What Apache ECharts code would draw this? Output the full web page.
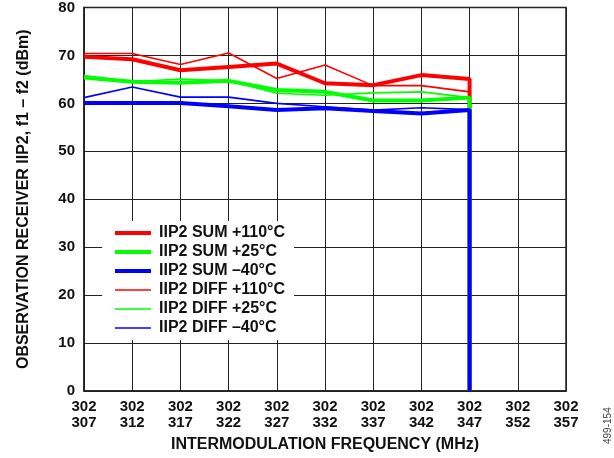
<!DOCTYPE html>
<html>
<head>
<meta charset="utf-8">
<script src="https://cdn.jsdelivr.net/npm/echarts@6/dist/echarts.min.js"></script>
<style>
  html, body { margin: 0; padding: 0; background: #fff; }
  #chart { width: 614px; height: 458px; }
</style>
</head>
<body>
<div id="chart"></div>
<script>
// intermodulation frequency, second line of the tick label (MHz)
const freqs = [307, 312, 317, 322, 327, 332, 337, 342, 347];
const f1Label = '302';

const sum110 = [69.7, 69.2, 66.9, 67.6, 68.3, 64.2, 63.8, 65.9, 65.1];
const sum25 = [65.4, 64.5, 64.3, 64.7, 62.8, 62.4, 60.6, 60.6, 61.2];
const sumM40 = [60.1, 60.1, 60.1, 59.4, 58.6, 59.0, 58.4, 57.9, 58.6];
const diff110 = [70.4, 70.4, 68.1, 70.5, 65.2, 68.0, 63.7, 63.7, 62.4];
const diff25 = [65.8, 64.5, 65.1, 64.7, 62.1, 61.7, 62.2, 62.4, 61.2];
const diffM40 = [61.2, 63.4, 61.3, 61.3, 60.0, 59.3, 58.6, 59.1, 58.7];

const sumNames = ['IIP2 SUM +110°C', 'IIP2 SUM +25°C', 'IIP2 SUM –40°C'];
const diffNames = ['IIP2 DIFF +110°C', 'IIP2 DIFF +25°C', 'IIP2 DIFF –40°C'];

const FONT = 'Arial, "Liberation Sans", sans-serif';
const THICK = 4;
const THIN = 1.6;

// each trace ends with a vertical drop to 0 at the last frequency
function toPoints(vals) {
    const pts = freqs.map((f, i) => [f, vals[i]]);
    pts.push([freqs[freqs.length - 1], 0]);
    return pts;
}

function makeSeries(name, vals, color, width) {
    return {
        name: name,
        type: 'line',
        data: toPoints(vals),
        symbol: 'none',
        color: color,
        lineStyle: { color: color, width: width },
        animation: false
    };
}

const chart = echarts.init(document.getElementById('chart'));

const option = {
    backgroundColor: '#fff',
    textStyle: { fontFamily: FONT },
    grid: {
        left: 84,
        right: 48,
        top: 6,
        bottom: 66,
        show: true,
        borderColor: '#222',
        borderWidth: 1.5
    },
    legend: {
        orient: 'vertical',
        left: 102,
        top: 221,
        padding: [4, 9, 4, 11],
        backgroundColor: '#fff',
        itemWidth: 36,
        itemHeight: 14,
        itemGap: 3,
        itemStyle: { opacity: 0 },
        textStyle: {
            fontFamily: FONT, fontWeight: 'bold', fontSize: 16, color: '#111',
            padding: [0, 0, 0, 3]
        },
        data: sumNames.map(n => ({ name: n, lineStyle: { width: THICK } }))
            .concat(diffNames.map(n => ({ name: n, lineStyle: { width: THIN } })))
    },
    xAxis: {
        type: 'value',
        min: 307,
        max: 357,
        interval: 5,
        name: 'INTERMODULATION FREQUENCY (MHz)',
        nameLocation: 'middle',
        nameGap: 46,
        nameTextStyle: { fontFamily: FONT, fontWeight: 'bold', fontSize: 16, color: '#111' },
        axisLine: { lineStyle: { color: '#222', width: 1.5 } },
        axisTick: { show: false },
        axisLabel: {
            margin: 8,
            fontFamily: FONT,
            fontWeight: 'bold',
            fontSize: 15,
            lineHeight: 16,
            color: '#111',
            formatter: v => f1Label + '\n' + v
        },
        splitLine: { show: true, lineStyle: { color: '#222', width: 1 } }
    },
    yAxis: {
        type: 'value',
        min: 0,
        max: 80,
        interval: 10,
        name: 'OBSERVATION RECEIVER IIP2, f1 – f2 (dBm)',
        nameLocation: 'middle',
        nameGap: 52,
        nameTextStyle: { fontFamily: FONT, fontWeight: 'bold', fontSize: 16, color: '#111' },
        axisLine: { show: true, lineStyle: { color: '#222', width: 1.5 } },
        axisTick: { show: false },
        axisLabel: {
            margin: 9,
            fontFamily: FONT,
            fontWeight: 'bold',
            fontSize: 15,
            color: '#111',
            padding: [6, 0, 0, 0]
        },
        splitLine: { show: true, lineStyle: { color: '#222', width: 1 } }
    },
    graphic: [{
        type: 'text',
        x: 603,
        y: 444,
        rotation: Math.PI / 2,
        style: { text: '499-154', fontFamily: FONT, fontSize: 10, fill: '#444' }
    }],
    // thin traces first so the thick SUM traces sit on top
    series: [
        makeSeries(diffNames[0], diff110, '#ff0000', THIN),
        makeSeries(diffNames[1], diff25, '#00ff00', THIN),
        makeSeries(diffNames[2], diffM40, '#0000ff', THIN),
        makeSeries(sumNames[0], sum110, '#ff0000', THICK),
        makeSeries(sumNames[1], sum25, '#00ff00', THICK),
        makeSeries(sumNames[2], sumM40, '#0000ff', THICK)
    ]
};

chart.setOption(option);
</script>
</body>
</html>
